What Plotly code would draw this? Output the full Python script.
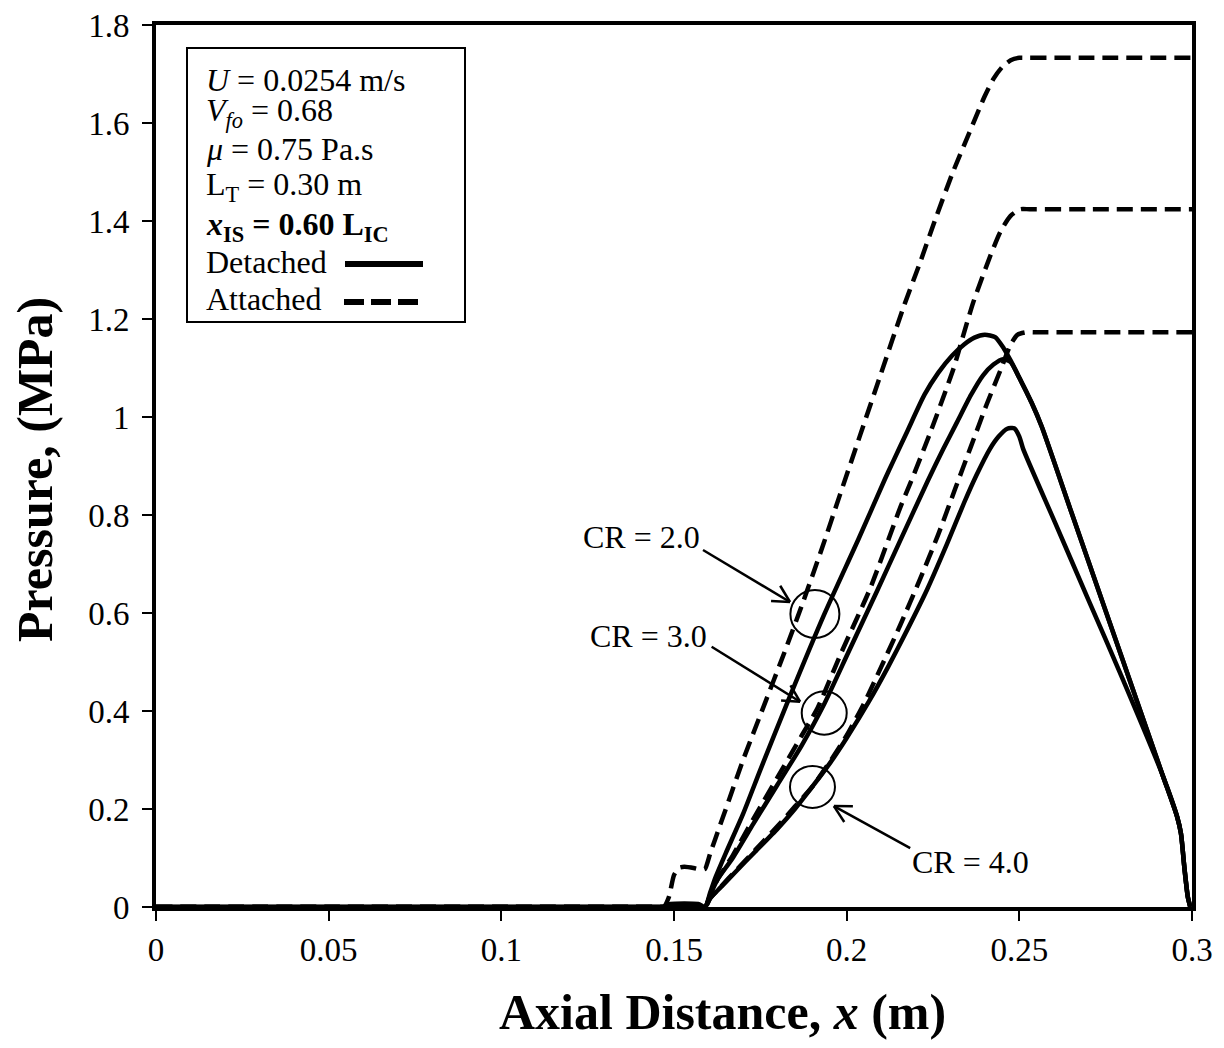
import math
import plotly.graph_objects as go

# ---------------- data: pressure along the axial distance ----------------
# Attached-flow profiles (dashed)
x_att_cr2 = [0.0, 0.05, 0.10, 0.14, 0.145, 0.147, 0.1485, 0.150, 0.1515, 0.153, 0.156, 0.158,
             0.159, 0.1605, 0.162, 0.166, 0.170, 0.176, 0.182, 0.187, 0.193, 0.198, 0.204,
             0.210, 0.2165, 0.2215, 0.2255, 0.2305, 0.2355, 0.240, 0.2425, 0.245, 0.2475,
             0.250, 0.2525, 0.27, 0.300]
p_att_cr2 = [0.0, 0.0, 0.0, 0.0, 0.0, 0.0, 0.02, 0.065, 0.080, 0.082, 0.079, 0.076,
             0.078, 0.11, 0.14, 0.22, 0.30, 0.41, 0.52, 0.615, 0.735, 0.84, 0.965,
             1.09, 1.225, 1.32, 1.40, 1.495, 1.58, 1.655, 1.69, 1.714, 1.728,
             1.733, 1.733, 1.733, 1.733]

x_att_cr3 = [0.0, 0.05, 0.10, 0.15, 0.155, 0.159, 0.1605, 0.1625, 0.167, 0.173, 0.180, 0.187,
             0.1915, 0.1985, 0.2068, 0.2155, 0.2185, 0.2242, 0.231, 0.2337, 0.2367, 0.2416,
             0.2445, 0.2474, 0.2503, 0.253, 0.27, 0.300]
p_att_cr3 = [0.0, 0.0, 0.0, 0.0, 0.0, 0.0, 0.025, 0.055, 0.105, 0.18, 0.265, 0.35,
             0.405, 0.52, 0.65, 0.815, 0.866, 0.968, 1.10, 1.165, 1.235, 1.329,
             1.378, 1.41, 1.424, 1.424, 1.424, 1.424]

x_att_cr4 = [0.0, 0.05, 0.10, 0.15, 0.155, 0.159, 0.1605, 0.1635, 0.168, 0.1735, 0.180, 0.185,
             0.190, 0.195, 0.200, 0.205, 0.210, 0.2155, 0.221, 0.2265, 0.2315, 0.236, 0.2405,
             0.2445, 0.2475, 0.2495, 0.252, 0.2545, 0.27, 0.300]
p_att_cr4 = [0.0, 0.0, 0.0, 0.0, 0.0, 0.0, 0.018, 0.041, 0.075, 0.116, 0.165, 0.205,
             0.245, 0.295, 0.35, 0.415, 0.49, 0.575, 0.665, 0.76, 0.855, 0.94, 1.025,
             1.095, 1.148, 1.168, 1.173, 1.173, 1.173, 1.173]

# Detached-flow profiles (solid)
x_det_cr2 = [0.0, 0.05, 0.10, 0.14, 0.145, 0.147, 0.149, 0.157, 0.159, 0.1605, 0.162, 0.165,
             0.170, 0.175, 0.183, 0.1935, 0.2035, 0.211, 0.2135, 0.2175, 0.2225, 0.2265,
             0.2305, 0.234, 0.237, 0.240, 0.243, 0.2455, 0.2475, 0.250, 0.2535, 0.2565,
             0.265, 0.275, 0.285, 0.2916, 0.2957, 0.2968, 0.2978, 0.2988, 0.2995]
p_det_cr2 = [0.0, 0.0, 0.0, 0.0, 0.0, 0.0, 0.006, 0.006, 0.0, 0.03, 0.06, 0.11,
             0.19, 0.28, 0.42, 0.597, 0.752, 0.872, 0.91, 0.97, 1.045, 1.09,
             1.125, 1.148, 1.162, 1.168, 1.163, 1.14, 1.115, 1.08, 1.03, 0.98,
             0.807, 0.604, 0.401, 0.267, 0.184, 0.15, 0.08, 0.02, 0.0]

x_det_cr3 = [0.0, 0.05, 0.10, 0.15, 0.155, 0.159, 0.1605, 0.1625, 0.167, 0.173, 0.180, 0.187,
             0.1932, 0.2005, 0.2088, 0.215, 0.2235, 0.228, 0.232, 0.236, 0.2395, 0.2425,
             0.2453, 0.2475, 0.250, 0.2535, 0.2565, 0.265, 0.275, 0.285, 0.2916, 0.2957,
             0.2968, 0.2978, 0.2988, 0.2995]
p_det_cr3 = [0.0, 0.0, 0.0, 0.0, 0.0, 0.0, 0.025, 0.055, 0.10, 0.17, 0.25, 0.33,
             0.41, 0.52, 0.645, 0.74, 0.87, 0.935, 0.99, 1.045, 1.085, 1.107,
             1.118, 1.112, 1.08, 1.03, 0.98, 0.807, 0.604, 0.401, 0.267, 0.184,
             0.15, 0.08, 0.02, 0.0]

x_det_cr4 = [0.0, 0.05, 0.10, 0.15, 0.155, 0.159, 0.1605, 0.1635, 0.168, 0.1735, 0.180, 0.185,
             0.190, 0.195, 0.200, 0.2065, 0.212, 0.2175, 0.2233, 0.229, 0.234, 0.2375, 0.2415,
             0.244, 0.2465, 0.2485, 0.2500, 0.2511, 0.26, 0.27, 0.28, 0.2916, 0.2957, 0.2968,
             0.2978, 0.2988, 0.2995]
p_det_cr4 = [0.0, 0.0, 0.0, 0.0, 0.0, 0.0, 0.018, 0.040, 0.073, 0.113, 0.16, 0.20,
             0.245, 0.292, 0.345, 0.42, 0.49, 0.565, 0.648, 0.74, 0.825, 0.88, 0.935,
             0.96, 0.976, 0.977, 0.96, 0.935, 0.79, 0.627, 0.464, 0.267, 0.184, 0.15,
             0.08, 0.02, 0.0]

x_ticks = [0, 0.05, 0.1, 0.15, 0.2, 0.25, 0.3]
y_ticks = [0, 0.2, 0.4, 0.6, 0.8, 1.0, 1.2, 1.4, 1.6, 1.8]

# ---------------- layout geometry ----------------
W, H = 1224, 1048
ML, MR, MT, MB = 156, 32, 25, 141
XR = (0.0, 0.3)
YR = (0.0, 1.8)
PW = W - ML - MR
PH = H - MT - MB
SX = (XR[1] - XR[0]) / PW   # data units per pixel, x
SY = (YR[1] - YR[0]) / PH   # data units per pixel, y

FONT = "Liberation Serif, Times New Roman, serif"
BLACK = "black"
LW = 4.5
DASH = "16px,8px"

fig = go.Figure()

series = [
    (x_att_cr2, p_att_cr2, DASH), (x_att_cr3, p_att_cr3, DASH), (x_att_cr4, p_att_cr4, DASH),
    (x_det_cr2, p_det_cr2, "solid"), (x_det_cr3, p_det_cr3, "solid"), (x_det_cr4, p_det_cr4, "solid"),
]
for xs, ys, dash in series:
    fig.add_trace(go.Scatter(x=xs, y=ys, mode="lines",
                             line=dict(color=BLACK, width=LW, dash=dash,
                                       shape="spline", smoothing=0.6),
                             showlegend=False, hoverinfo="skip"))

shapes = []
annotations = []

# ring markers on the curves
rings = [(0.1908, 0.598, 24.5, 24.0), (0.1935, 0.396, 22.5, 21.7), (0.1901, 0.245, 22.5, 21.0)]
for cx, cy, rx, ry in rings:
    shapes.append(dict(type="circle", xref="x", yref="y",
                       x0=cx - rx * SX, x1=cx + rx * SX, y0=cy - ry * SY, y1=cy + ry * SY,
                       line=dict(color=BLACK, width=2)))

# leader arrows with open heads (tail, tip in data units)
arrows = [((0.1584, 0.7286), (0.1836, 0.6224)),
          ((0.1609, 0.531), (0.1865, 0.419)),
          ((0.2184, 0.120), (0.1963, 0.206))]
HEAD_LEN, HEAD_ANG = 19, math.radians(28)
for (tx, ty), (hx, hy) in arrows:
    shapes.append(dict(type="line", xref="x", yref="y", x0=tx, y0=ty, x1=hx, y1=hy,
                       line=dict(color=BLACK, width=2.5)))
    # direction in pixel space (y up)
    dxp, dyp = (tx - hx) / SX, (ty - hy) / SY
    base = math.atan2(dyp, dxp)
    for s in (-1, 1):
        a = base + s * HEAD_ANG
        ex = hx + HEAD_LEN * math.cos(a) * SX
        ey = hy + HEAD_LEN * math.sin(a) * SY
        shapes.append(dict(type="line", xref="x", yref="y", x0=hx, y0=hy, x1=ex, y1=ey,
                           line=dict(color=BLACK, width=2.5)))

cr_labels = [("CR = 2.0", 0.1405, 0.755), ("CR = 3.0", 0.1425, 0.553), ("CR = 4.0", 0.236, 0.092)]
for txt, lx, ly in cr_labels:
    annotations.append(dict(text=txt, x=lx, y=ly, xref="x", yref="y", showarrow=False,
                            xanchor="center", yanchor="middle",
                            font=dict(family=FONT, size=32, color=BLACK)))


def px(xp):
    return (xp - ML) / PW


def py(yp):
    return (MT + PH - yp) / PH


# parameter box
shapes.append(dict(type="rect", xref="paper", yref="paper",
                   x0=px(187), x1=px(465), y0=py(322), y1=py(48),
                   line=dict(color=BLACK, width=2), fillcolor="white", layer="below"))
box_lines = [
    ("<i>U</i> = 0.0254 m/s", 80),
    ("<i>V</i><sub><i>fo</i></sub> = 0.68", 113),
    ("<i>μ</i> = 0.75 Pa.s", 149),
    ("L<sub>T</sub> = 0.30 m", 187),
    ("<b><i>x</i><sub>IS</sub> = 0.60 L<sub>IC</sub></b>", 226),
    ("Detached", 262),
    ("Attached", 299),
]
for txt, yp in box_lines:
    annotations.append(dict(text=txt, x=px(204), y=py(yp), xref="paper", yref="paper",
                            showarrow=False, xanchor="left", yanchor="middle",
                            font=dict(family=FONT, size=32, color=BLACK)))
shapes.append(dict(type="line", xref="paper", yref="paper", x0=px(345), x1=px(423),
                   y0=py(264), y1=py(264), line=dict(color=BLACK, width=6)))
shapes.append(dict(type="line", xref="paper", yref="paper", x0=px(344), x1=px(420),
                   y0=py(302), y1=py(302), line=dict(color=BLACK, width=6, dash="20px,7px")))

# axis titles
annotations.append(dict(text="<b>Axial Distance, <i>x</i> (m)</b>", x=px(722), y=py(1012),
                        xref="paper", yref="paper", showarrow=False,
                        xanchor="center", yanchor="middle",
                        font=dict(family=FONT, size=50, color=BLACK)))
annotations.append(dict(text="<b>Pressure, (MPa)</b>", x=px(35), y=py(470),
                        xref="paper", yref="paper", showarrow=False, textangle=-90,
                        xanchor="center", yanchor="middle",
                        font=dict(family=FONT, size=50, color=BLACK)))

axis_common = dict(showgrid=False, zeroline=False, showline=True, linecolor=BLACK,
                   linewidth=4, mirror=True, ticks="outside", ticklen=10, tickwidth=2,
                   tickcolor=BLACK, tickfont=dict(family=FONT, size=33, color=BLACK))

fig.update_layout(
    width=W, height=H,
    margin=dict(l=ML, r=MR, t=MT, b=MB, autoexpand=False),
    paper_bgcolor="white", plot_bgcolor="white",
    xaxis=dict(range=list(XR), tickvals=x_ticks, ticktext=[f"{v:g}" for v in x_ticks], **axis_common),
    yaxis=dict(range=list(YR), tickvals=y_ticks, ticktext=[f"{v:g}" for v in y_ticks],
               ticklabelstandoff=6, **axis_common),
    shapes=shapes,
    annotations=annotations,
)

fig.write_html("out.html")
